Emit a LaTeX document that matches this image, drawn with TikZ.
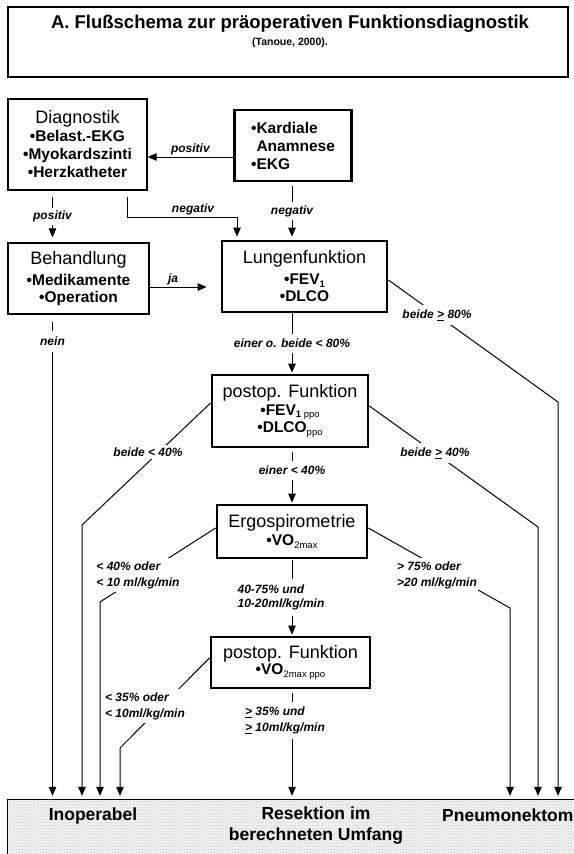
\documentclass[tikz,border=0pt]{standalone}
\usepackage{fontspec}
\setmainfont{Liberation Sans}
\usetikzlibrary{arrows.meta,patterns}
\newcommand\myhd{\fontsize{18}{18}\selectfont\mdseries}
\newcommand\mybi[1]{\fontsize{15.5}{#1}\selectfont\bfseries}
\newcommand\mylbl{\fontsize{12}{16}\selectfont\bfseries\itshape}
\newcommand\mybt{\fontsize{17.5}{21}\selectfont\bfseries}
\newcommand\mysb[1]{\raisebox{-0.18em}{\fontsize{9.5}{10}\selectfont\mdseries #1}}
\begin{document}
\begin{tikzpicture}[x=1pt,y=-1pt,
  box/.style={draw, line width=1.3pt, align=center, inner sep=0pt},
  tbox/.style={box, line width=2.8pt},
  conn/.style={line width=1pt},
  arr/.style={conn, -{Triangle[length=9pt,width=7.5pt]}},
  lbl/.style={font=\mylbl, fill=white, inner xsep=1pt, inner ysep=3pt},
  lblnf/.style={font=\mylbl, inner sep=1pt}]
\useasboundingbox (0,0) rectangle (573,854);

% title
\node[box, minimum width=560pt, minimum height=70pt] (title) at (288,42) {};
\node[font=\fontsize{18.5}{20}\selectfont\bfseries] (ttl) at (290,24) {A. Flußschema zur präoperativen Funktionsdiagnostik};
\node[font=\fontsize{10.5}{12}\selectfont\bfseries] (cite) at (290,43) {(Tanoue, 2000).};

% boxes
\node[box, font=\mybi{18}, minimum width=139pt, minimum height=91pt] (diag) at (77.5,144.5)
  {{\myhd Diagnostik}\\[0pt]•Belast.-EKG\\•Myokardszinti\\•Herzkatheter};
\node[tbox, font=\mybi{18}, minimum width=117pt, minimum height=71pt, align=left] (kard) at (293,145.5)
  {•Kardiale\\\hphantom{•}Anamnese\\•EKG};
\node[tbox, font=\mybi{17.5}, minimum width=165pt, minimum height=71pt] (lung) at (304.5,276.5)
  {{\myhd Lungenfunktion}\\[3pt]•FEV\mysb{\bfseries 1}\\•DLCO};
\node[box, font=\mybi{16.5}, minimum width=141pt, minimum height=71pt] (beh) at (78.5,278.5)
  {{\myhd Behandlung}\\[5pt]•Medikamente\\•Operation};
\node[tbox, font=\mybi{17.5}, minimum width=156pt, minimum height=72pt] (post) at (290,411)
  {{\myhd postop. Funktion}\\[0pt]•FEV\mysb{\textbf{1} ppo}\\•DLCO\mysb{ppo}};
\node[tbox, font=\mybi{18}, minimum width=150pt, minimum height=53pt] (ergo) at (292,531.5)
  {{\myhd Ergospirometrie}\\•VO\mysb{2max}};
\node[tbox, font=\mybi{16}, minimum width=159pt, minimum height=51pt] (post2) at (290.5,662.5)
  {{\myhd postop. Funktion}\\•VO\mysb{2max ppo}};

% bottom box
\node[fill=gray!10, minimum width=600pt, minimum height=80pt, inner sep=0pt] (bot) at (308,840) {};
\fill[pattern=crosshatch dots, pattern color=gray!45] (bot.north west) rectangle (bot.south east);
\draw[line width=1.3pt] (bot.north west) rectangle (bot.south east);
\node[font=\mybt] (inop) at (93,816) {Inoperabel};
\node[font=\mybt, align=center] (res) at (316,826) {Resektion im\\berechneten Umfang};
\node[font=\mybt, anchor=west, inner sep=0pt] (pneu) at (442,815) {Pneumonektom};

% connectors
\draw[arr] (kard.west |- 0,157) -- node[lblnf, above=1pt]{positiv} (diag.east |- 0,157);
\draw[arr, shorten <=6pt, shorten >=5pt] (diag.south -| 52.5,0) -- node[lbl]{positiv} (beh.north -| 52.5,0);
\draw[arr, shorten <=6pt, shorten >=3pt] (diag.south -| 127,0) -- (127,217) -- node[lblnf, above=1pt, pos=0.6]{negativ} (237,217) -- (lung.north -| 237,0);
\draw[arr, shorten <=4pt, shorten >=3pt] (kard.south -| 292,0) -- node[lbl]{negativ} (lung.north -| 292,0);
\draw[arr, shorten >=14pt] (beh.east |- 0,287) -- node[lblnf, above=1pt, pos=0.33]{ja} (lung.west |- 0,287);
\draw[arr, shorten <=7pt, shorten >=4pt] (beh.south -| 52.5,0) -- node[lbl, pos=0.055, inner ysep=6pt]{nein} (bot.north -| 52.5,0);
\draw[arr, shorten >=1pt] (lung.south -| 292,0) -- node[lbl, inner ysep=5pt]{einer o. beide < 80\%} (post.north -| 292,0);
\draw[arr, shorten >=4pt] (lung.east |- 0,280) -- (558,402) -- (bot.north -| 558,0);
\node[lbl, inner ysep=5pt] (l80) at (437,315) {beide \underline{>} 80\%};
\draw[arr, shorten >=4pt] (post.west |- 0,403) -- (82,525) -- (bot.north -| 82,0);
\node[lbl] (l40l) at (148,452) {beide < 40\%};
\draw[arr, shorten >=4pt] (post.east |- 0,406) -- (538,527) -- (bot.north -| 538,0);
\node[lbl, inner ysep=5pt] (l40r) at (435,453) {beide \underline{>} 40\%};
\draw[arr, shorten <=4pt, shorten >=1pt] (post.south -| 292,0) -- node[lbl, pos=0.4, inner ysep=5pt]{einer < 40\%} (ergo.north -| 292,0);
\draw[arr, shorten >=4pt] (ergo.west |- 0,528) -- (100,602) -- (bot.north -| 100,0);
\node[lbl, align=left] (le1) at (138,575) {< 40\% oder\\< 10 ml/kg/min};
\draw[arr, shorten >=4pt] (ergo.east |- 0,528) -- (510,608) -- (bot.north -| 510,0);
\node[lbl, align=left] (re1) at (437,575) {> 75\% oder\\>20 ml/kg/min};
\draw[arr, shorten <=1pt, shorten >=1pt] (ergo.south -| 292,0) -- node[lbl, align=left, xshift=-11pt, inner ysep=6pt]{40-75\% und\\[-2pt]10-20ml/kg/min} (post2.north -| 292,0);
\draw[arr, shorten >=4pt] (post2.west |- 0,658) -- (120,748) -- (bot.north -| 120,0);
\node[lbl, align=left] (le2) at (145,706) {< 35\% oder\\< 10ml/kg/min};
\draw[arr, shorten <=4pt, shorten >=4pt] (post2.south -| 292,0) -- node[lbl, align=left, pos=0.28, xshift=-7pt, inner ysep=5pt]{\underline{>} 35\% und\\\underline{>} 10ml/kg/min} (bot.north -| 292,0);
\end{tikzpicture}
\end{document}
